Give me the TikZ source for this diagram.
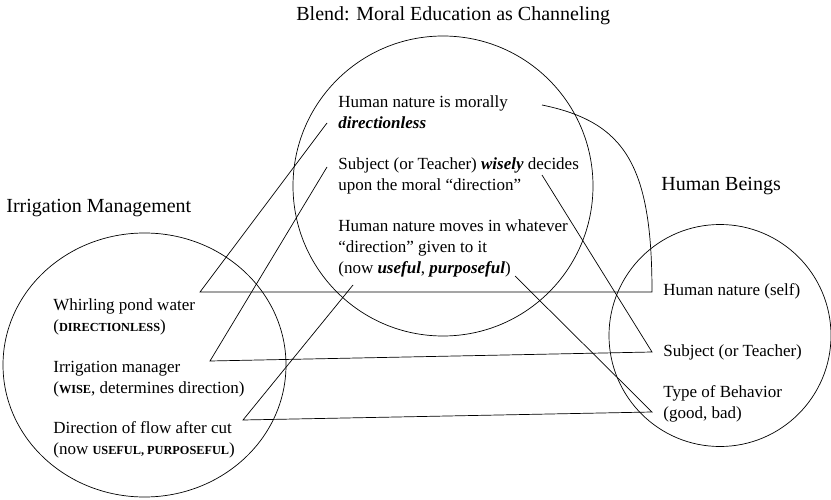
\documentclass[tikz,border=0pt]{standalone}
\usepackage{fontspec}
\setmainfont{Liberation Serif}
\usetikzlibrary{shapes.geometric}
\newcommand{\fsc}[1]{{\fontsize{12.3pt}{12.3pt}\selectfont\bfseries #1}}
\newcommand{\bi}[1]{\textbf{\textit{#1}}}
\begin{document}
\begin{tikzpicture}[x=1pt,y=-1pt, line width=0.7pt,
  txt/.style={anchor=base west, inner sep=0pt, align=left, font=\fontsize{17pt}{21pt}\selectfont},
  ttl/.style={anchor=base west, inner sep=0pt, font=\fontsize{20pt}{24pt}\selectfont},
  space/.style={draw, inner sep=0pt}]
\useasboundingbox (0,0) rectangle (831,500);
% spaces
\node[space, ellipse, minimum width=283pt, minimum height=264pt] (irr) at (144.5,365) {};
\node[space, circle, minimum size=300pt] (blend) at (443,186) {};
\node[space, circle, minimum size=222pt] (hum) at (720,335.5) {};
% titles
\node[ttl] (t1) at (296,21) {Blend: Moral Education as Channeling};
\node[ttl] (t2) at (6,213) {Irrigation Management};
\node[ttl] (t3) at (661,191) {Human Beings};
% left texts (anchor = baseline of last line)
\node[txt] (w1) at (53,331) {Whirling pond water\\(\fsc{DIRECTIONLESS})};
\node[txt] (w2) at (53,393) {Irrigation manager\\(\fsc{WISE}, determines direction)};
\node[txt] (w3) at (53,454) {Direction of flow after cut\\(now \fsc{USEFUL, PURPOSEFUL})};
% blend texts
\node[txt] (b1) at (338,129) {Human nature is morally\\\bi{directionless}};
\node[txt] (b2) at (338,191) {Subject (or Teacher) \bi{wisely} decides\\upon the moral “direction”};
\node[txt] (b3) at (338,273) {Human nature moves in whatever\\“direction” given to it\\(now \bi{useful}, \bi{purposeful})};
% right texts
\node[txt] (h1) at (663,295) {Human nature (self)};
\node[txt] (h2) at (663,356) {Subject (or Teacher)};
\node[txt] (h3) at (663,418) {Type of Behavior\\(good, bad)};
% connector points
\coordinate (a1) at (327,123);
\coordinate (a2) at (200,292);
\coordinate (a3) at (652,292);
\coordinate (a4) at (542,105);
\coordinate (c1) at (327,167);
\coordinate (c2) at (210,361);
\coordinate (c3) at (652,352);
\coordinate (c4) at (542,175);
\coordinate (d1) at (353,285);
\coordinate (d2) at (243,420);
\coordinate (d3) at (652,412);
\coordinate (d4) at (515,276);
\draw (a1) -- (a2) -- (a3) .. controls (652,165) and (625,122) .. (a4);
\draw (c1) -- (c2) -- (c3) -- (c4);
\draw (d1) -- (d2) -- (d3) -- (d4);
\end{tikzpicture}
\end{document}
